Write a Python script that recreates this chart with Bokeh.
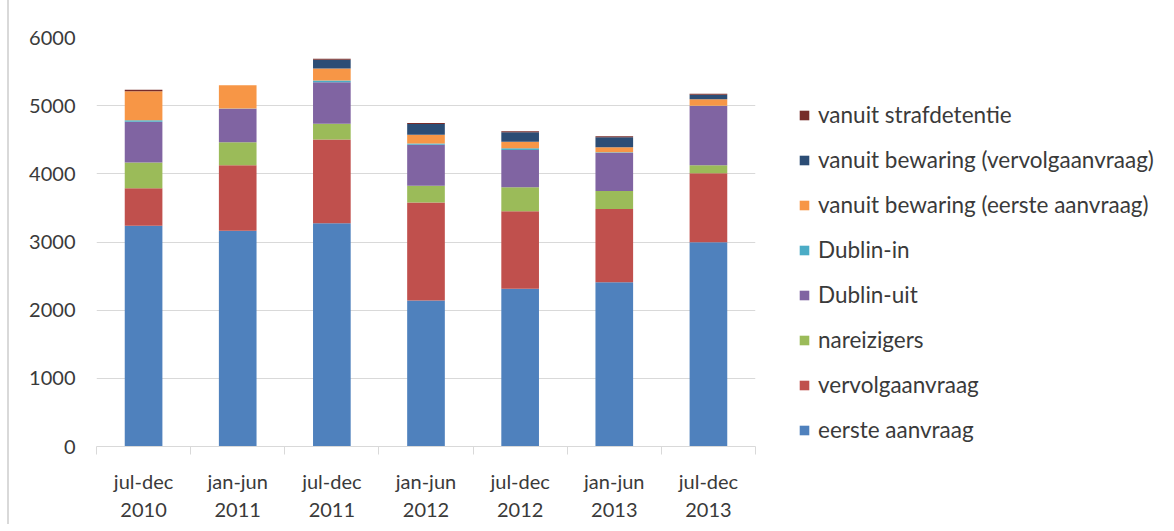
from bokeh.plotting import figure
from bokeh.models import (Range1d, FixedTicker, Legend, LegendItem, ColumnDataSource)
from bokeh.embed import file_html
from bokeh.resources import INLINE

periods = ["jul-dec\n2010", "jan-jun\n2011", "jul-dec\n2011", "jan-jun\n2012",
           "jul-dec\n2012", "jan-jun\n2013", "jul-dec\n2013"]

eerste_aanvraag = [3240, 3165, 3275, 2140, 2315, 2410, 2995]
vervolgaanvraag = [550, 960, 1230, 1440, 1135, 1075, 1015]
nareizigers = [375, 340, 230, 245, 355, 265, 115]
dublin_uit = [600, 490, 610, 600, 545, 560, 870]
dublin_in = [20, 5, 25, 20, 25, 5, 5]
bewaring_eerste = [425, 340, 175, 130, 95, 75, 95]
bewaring_vervolg = [0, 0, 130, 155, 140, 145, 65]
strafdetentie = [25, 0, 15, 15, 15, 15, 15]

series_names = ["eerste aanvraag", "vervolgaanvraag", "nareizigers", "Dublin-uit",
                "Dublin-in", "vanuit bewaring (eerste aanvraag)",
                "vanuit bewaring (vervolgaanvraag)", "vanuit strafdetentie"]
series_values = [eerste_aanvraag, vervolgaanvraag, nareizigers, dublin_uit,
                 dublin_in, bewaring_eerste, bewaring_vervolg, strafdetentie]
colors = ["#4F81BD", "#C0504D", "#9BBB59", "#8064A2", "#4BACC6", "#F79646",
          "#2C4D75", "#772C2A"]

yticks = [0, 1000, 2000, 3000, 4000, 5000, 6000]

FONT = "Lato"
TXT = "#3a3a3a"

n = len(periods)
x = [i + 0.5 for i in range(n)]
keys = ["s%d" % i for i in range(len(series_values))]
data = {"x": x}
for k, v in zip(keys, series_values):
    data[k] = v
src = ColumnDataSource(data)

p = figure(frame_width=659, frame_height=409, output_backend="svg", toolbar_location=None,
           x_range=Range1d(0, n), y_range=Range1d(0, 6000),
           min_border_left=87, min_border_right=0, min_border_top=37,
           min_border_bottom=0)
p.outline_line_color = None
p.styles = {"border-left": "2px solid #d9d9d9", "margin-left": "7px"}

rs = p.vbar_stack(keys, x="x", width=0.4, color=colors, line_color=None, source=src)

# axes
p.xaxis.ticker = FixedTicker(ticks=x, minor_ticks=list(range(n + 1)))
p.xaxis.major_label_overrides = {xi: lab for xi, lab in zip(x, periods)}
p.xaxis.major_tick_line_color = None
p.xaxis.major_tick_out = 0
p.xaxis.major_tick_in = 0
p.xaxis.minor_tick_out = 8
p.xaxis.minor_tick_in = 0
p.xaxis.minor_tick_line_color = "#d9d9d9"
p.xaxis.axis_line_color = "#d9d9d9"
p.xaxis.major_label_text_font = FONT
p.xaxis.major_label_text_font_size = "20px"
p.xaxis.major_label_text_color = TXT
p.xaxis.major_label_standoff = 14

p.yaxis.ticker = FixedTicker(ticks=yticks)
p.yaxis.minor_tick_line_color = None
p.yaxis.major_tick_line_color = None
p.yaxis.major_tick_out = 0
p.yaxis.axis_line_color = None
p.yaxis.major_label_text_font = FONT
p.yaxis.major_label_text_font_size = "20px"
p.yaxis.major_label_text_color = TXT
p.yaxis.major_label_standoff = 21

p.xgrid.grid_line_color = None
p.ygrid.grid_line_color = "#d9d9d9"
p.ygrid.ticker = FixedTicker(ticks=yticks)

items = [LegendItem(label=nm, renderers=[r]) for nm, r in zip(series_names, rs)][::-1]
legend = Legend(items=items, location=(43, 3), padding=0, margin=0,
                border_line_color=None, background_fill_alpha=0,
                glyph_width=12, glyph_height=12, spacing=18, label_height=20,
                label_standoff=8,
                label_text_font=FONT, label_text_font_size="22.5px",
                label_text_color=TXT)
p.add_layout(legend, "right")

open("out.html", "w").write(file_html(p, INLINE))
